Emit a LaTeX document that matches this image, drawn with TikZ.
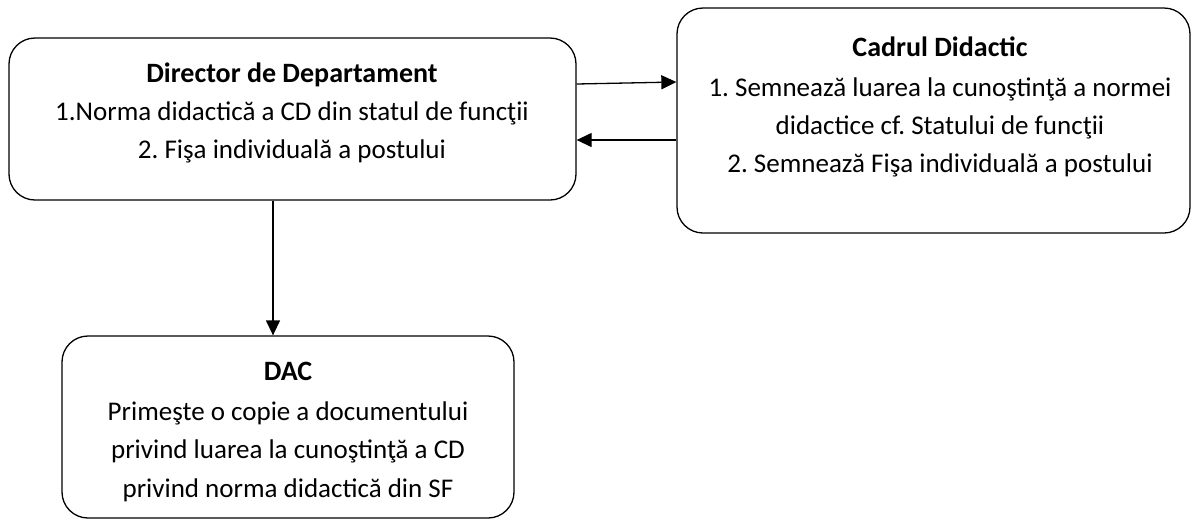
\documentclass[tikz,border=0pt]{standalone}
\usepackage{fontspec}
\setmainfont{Carlito}
\usetikzlibrary{arrows.meta}
\begin{document}
\frenchspacing
\begin{tikzpicture}[x=1pt,y=1pt,
 box/.style={draw, line width=1.3pt, rounded corners=26pt, inner sep=0pt},
 conn/.style={line width=1.3pt, -{Triangle[length=15pt,width=14pt]}},
 txt/.style={inner sep=0pt, anchor=base, font=\fontsize{27}{37.5}\selectfont},
 ttl/.style={txt, font=\fontsize{28}{37.5}\selectfont\bfseries}]
\useasboundingbox (0,0) rectangle (1197,-523);
% boxes
\node[box, minimum width=567pt, minimum height=162pt] (dir) at (292.5,-119) {};
\node[box, minimum width=513pt, minimum height=225pt] (cd) at (933.5,-120.5) {};
\node[box, minimum width=452pt, minimum height=182pt] (dac) at (288,-427) {};
% texts
\node[ttl] (dir1) at (292,-82) {Director de Departament};
\node[txt] (dir2) at (292,-120) {1.Norma didactică a CD din statul de funcţii};
\node[txt] (dir3) at (292,-158) {2. Fişa individuală a postului};
\node[ttl] (cd1) at (940,-56) {Cadrul Didactic};
\node[txt] (cd2) at (940,-96.5) {1. Semnează luarea la cunoştinţă a normei};
\node[txt] (cd3) at (940,-134) {didactice cf. Statului de funcţii};
\node[txt] (cd4) at (940,-172) {2. Semnează Fişa individuală a postului};
\node[ttl] (dac1) at (288,-380) {DAC};
\node[txt] (dac2) at (288,-420) {Primeşte o copie a documentului};
\node[txt] (dac3) at (288,-458.5) {privind luarea la cunoştinţă a CD};
\node[txt] (dac4) at (288,-497) {privind norma didactică din SF};
% connectors
\draw[conn] ([yshift=35pt]dir.east) -- ([yshift=38.5pt]cd.west);
\draw[conn] ([yshift=-19.5pt]cd.west) -- ([yshift=-21pt]dir.east);
\draw[conn] ([xshift=-19.5pt]dir.south) -- ([xshift=-15pt]dac.north);
\end{tikzpicture}
\end{document}
